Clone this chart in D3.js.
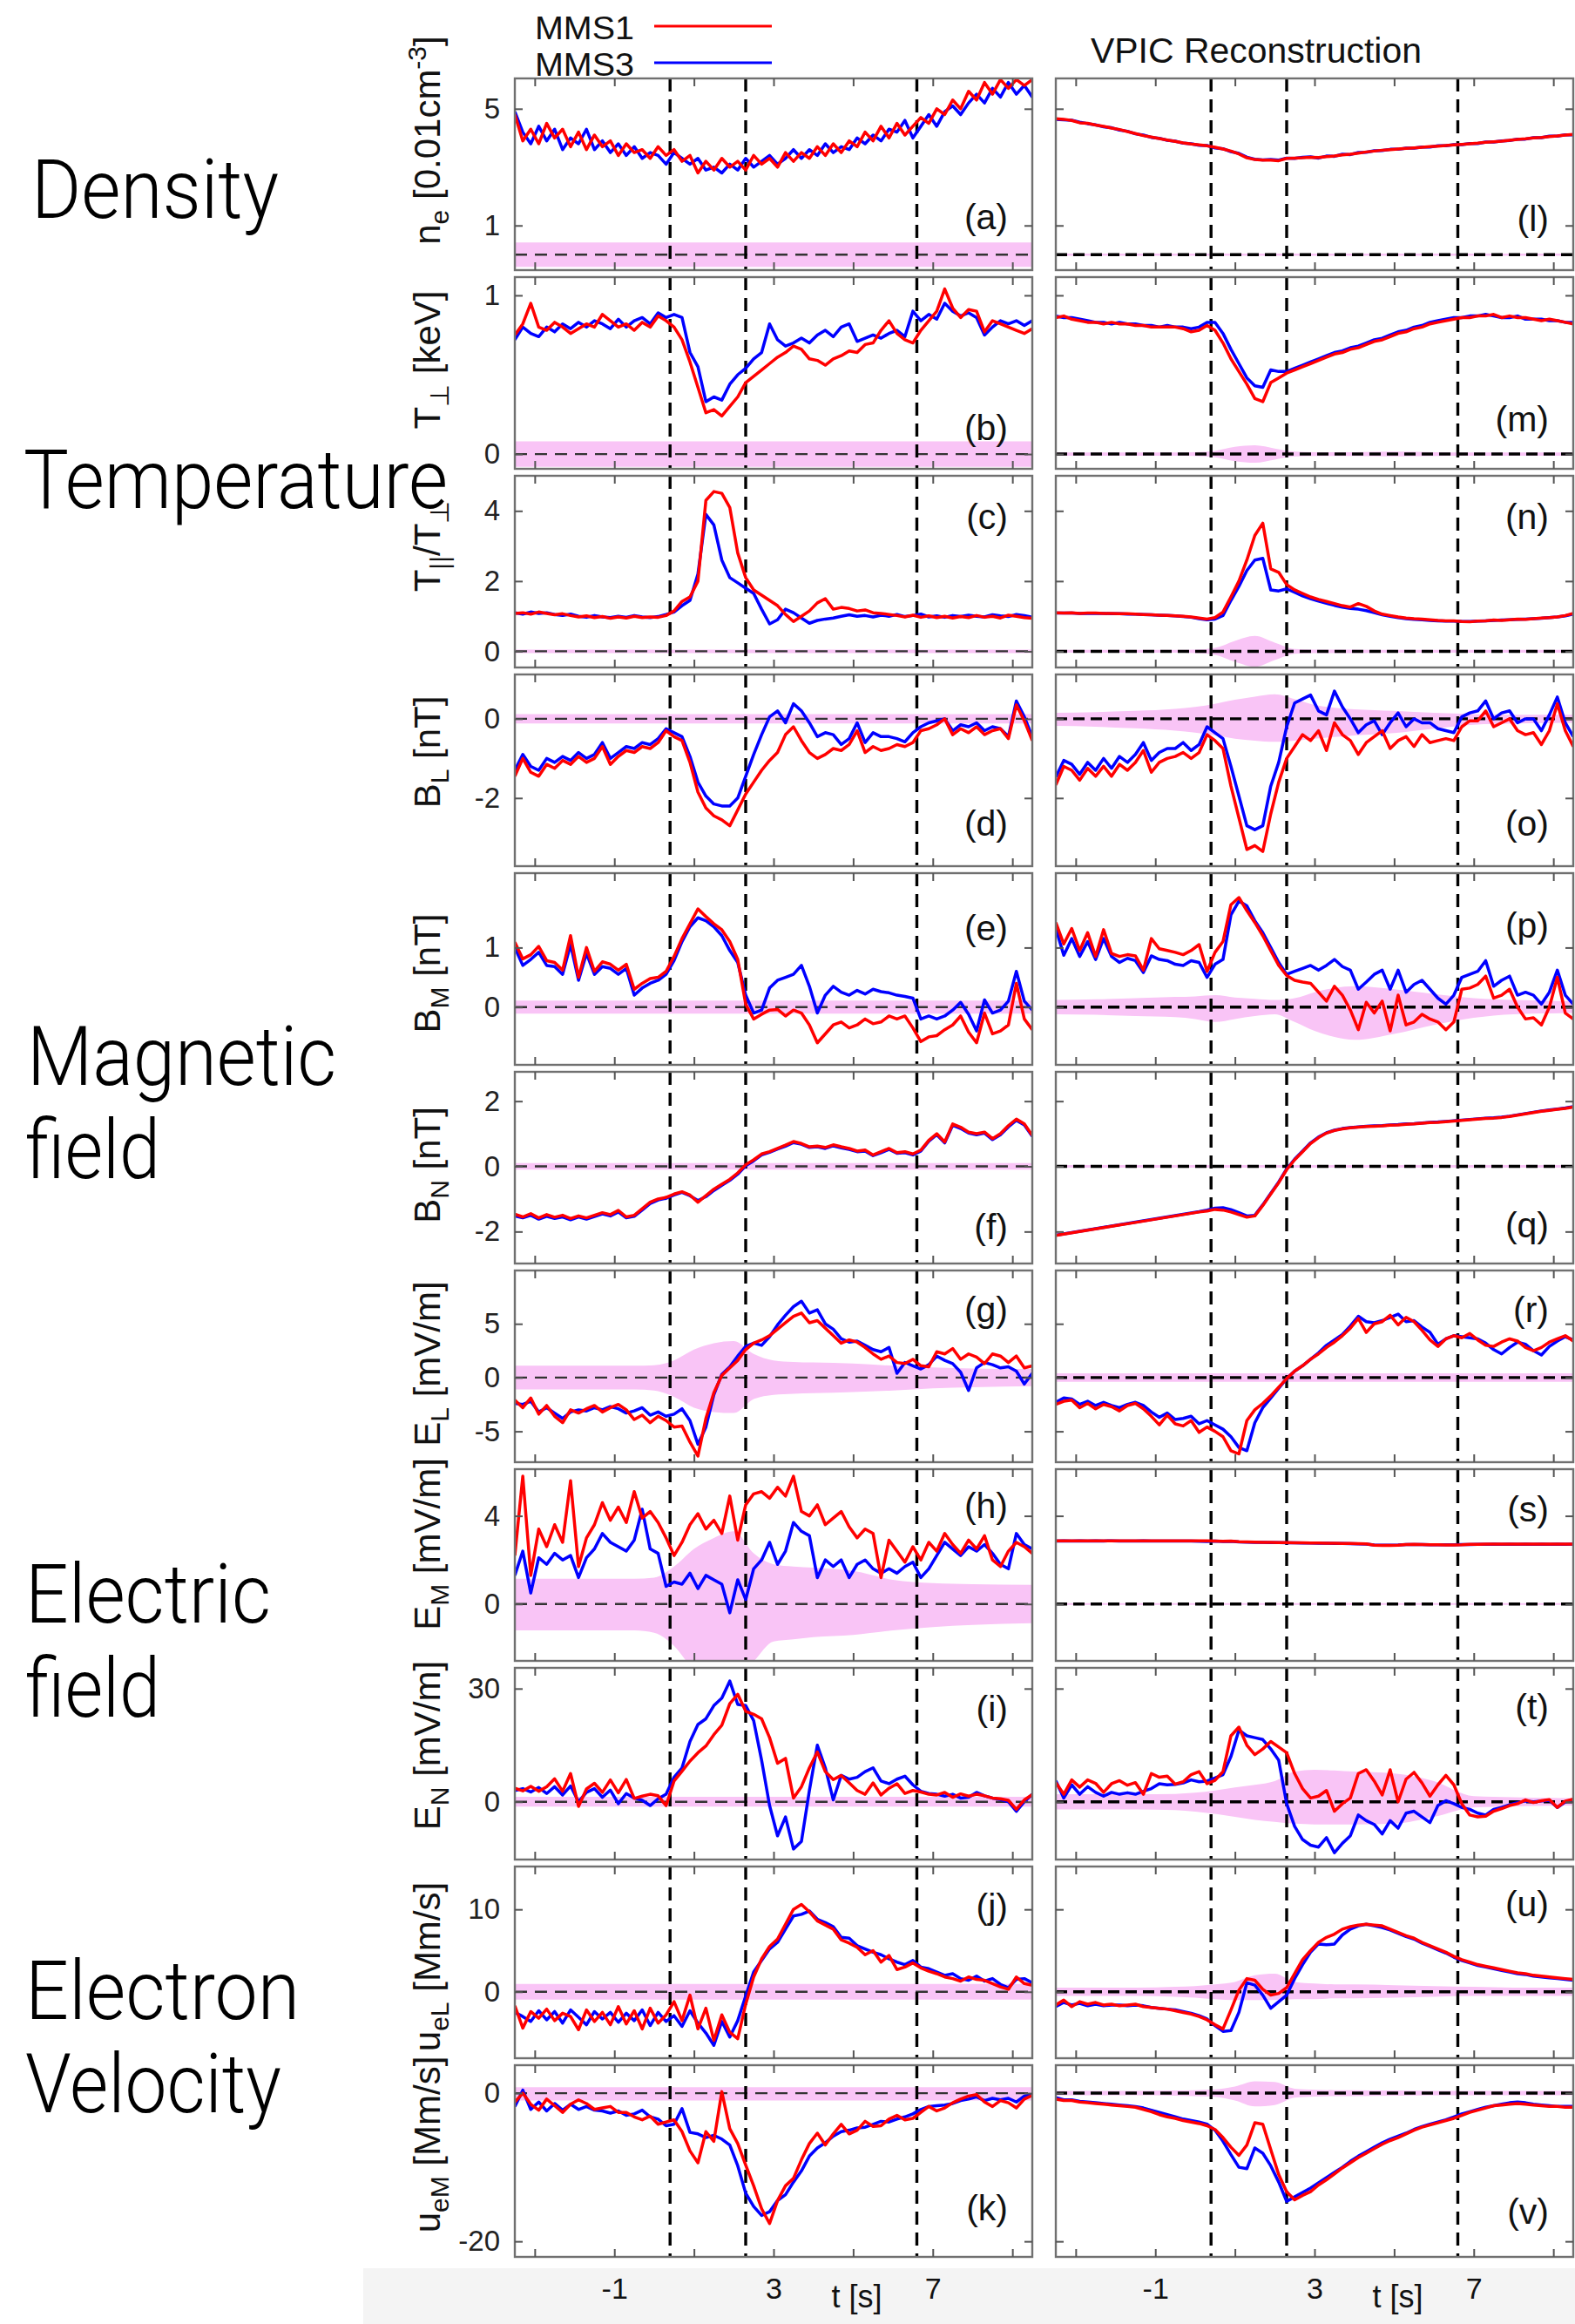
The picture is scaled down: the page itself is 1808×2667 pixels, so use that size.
<!DOCTYPE html>
<html>
<head>
<meta charset="utf-8">
<script src="https://cdn.jsdelivr.net/npm/d3@7"></script>
<style>
  body { margin: 0; background: #fff; }
  svg { display: block; }
</style>
</head>
<body>
<svg id="fig" width="1808" height="2667"></svg>
<script>
// ---- time base (s) ----
const time = [-3.5,-3.3,-3.1,-2.9,-2.7,-2.5,-2.3,-2.1,-1.9,-1.7,
  -1.5,-1.3,-1.1,-0.9,-0.7,-0.5,-0.3,-0.1,0.1,0.3,
  0.5,0.7,0.9,1.1,1.3,1.5,1.7,1.9,2.1,2.3,
  2.5,2.7,2.9,3.1,3.3,3.5,3.7,3.9,4.1,4.3,
  4.5,4.7,4.9,5.1,5.3,5.5,5.7,5.9,6.1,6.3,
  6.5,6.7,6.9,7.1,7.3,7.5,7.7,7.9,8.1,8.3,
  8.5,8.7,8.9,9.1,9.3,9.5];
const eventTimes = [0.4, 2.3, 6.6];
const timeTicks = [-3, -1, 1, 3, 5, 7, 9];
const timeLabels = [-1, 3, 7];

// ---- electron density n_e [0.01 cm^-3] ----
const nObs1 = [4.8,3.9,4.3,3.8,4.5,4.0,4.3,3.7,4.2,3.6,
  4.1,3.7,3.9,3.4,3.8,3.5,3.6,3.3,3.7,3.4,
  3.6,3.2,3.4,2.8,3.2,2.9,3.3,3.0,3.2,2.9,
  3.4,3.1,3.3,3.0,3.5,3.2,3.5,3.3,3.7,3.4,
  3.8,3.5,3.9,3.7,4.2,3.9,4.4,4.0,4.5,4.1,
  4.4,4.7,4.5,5.0,4.8,5.3,5.0,5.6,5.3,5.9,
  5.5,6.0,5.7,6.0,5.8,6.0];
const nObs3 = [4.9,4.2,3.8,4.4,3.9,4.3,3.6,4.0,3.8,4.3,
  3.6,3.9,3.5,3.8,3.4,3.7,3.3,3.5,3.4,3.1,
  3.5,3.3,3.1,3.3,2.9,3.0,2.8,3.1,2.9,3.3,
  3.0,3.2,3.4,3.1,3.3,3.6,3.3,3.6,3.4,3.8,
  3.5,3.7,3.6,4.0,3.8,4.1,3.9,4.3,4.2,4.6,
  4.0,4.4,4.8,4.4,4.9,5.1,4.8,5.2,5.5,5.2,
  5.7,5.4,5.9,5.5,5.8,5.4];
const nSim1 = [4.66,4.64,4.60,4.52,4.50,4.44,4.40,4.34,4.29,4.22,
  4.15,4.08,4.03,3.98,3.93,3.88,3.83,3.79,3.76,3.73,
  3.68,3.62,3.55,3.45,3.32,3.26,3.24,3.24,3.22,3.30,
  3.31,3.32,3.34,3.33,3.36,3.38,3.42,3.44,3.48,3.52,
  3.55,3.58,3.60,3.62,3.64,3.66,3.68,3.70,3.72,3.74,
  3.76,3.78,3.80,3.82,3.85,3.87,3.89,3.92,3.95,3.97,
  4.00,4.02,4.05,4.07,4.10,4.12];
const nSim3 = [4.64,4.62,4.61,4.54,4.49,4.45,4.38,4.35,4.27,4.23,
  4.14,4.10,4.02,3.99,3.92,3.89,3.82,3.80,3.75,3.74,
  3.66,3.63,3.53,3.47,3.34,3.27,3.25,3.26,3.24,3.31,
  3.30,3.34,3.35,3.31,3.38,3.37,3.44,3.43,3.50,3.51,
  3.56,3.57,3.61,3.61,3.65,3.65,3.69,3.69,3.73,3.73,
  3.77,3.77,3.81,3.81,3.86,3.86,3.90,3.91,3.96,3.96,
  4.01,4.01,4.06,4.06,4.11,4.11];

// ---- perpendicular temperature [keV] ----
const tperpObs1 = [0.75,0.82,0.95,0.80,0.78,0.83,0.80,0.76,0.79,0.82,
  0.80,0.88,0.84,0.80,0.82,0.78,0.83,0.80,0.87,0.84,
  0.80,0.72,0.58,0.42,0.26,0.28,0.24,0.30,0.36,0.45,
  0.49,0.53,0.57,0.61,0.64,0.68,0.66,0.60,0.59,0.56,
  0.60,0.62,0.65,0.64,0.69,0.70,0.78,0.84,0.76,0.72,
  0.70,0.78,0.84,0.90,1.04,0.92,0.86,0.91,0.90,0.77,
  0.84,0.82,0.80,0.78,0.76,0.79];
const tperpObs3 = [0.72,0.80,0.76,0.74,0.80,0.77,0.82,0.79,0.83,0.80,
  0.84,0.82,0.79,0.85,0.80,0.84,0.86,0.82,0.89,0.86,
  0.88,0.86,0.64,0.55,0.33,0.36,0.34,0.44,0.50,0.54,
  0.60,0.64,0.82,0.72,0.68,0.70,0.73,0.70,0.75,0.78,
  0.74,0.80,0.82,0.71,0.73,0.75,0.73,0.76,0.78,0.74,
  0.90,0.84,0.88,0.85,0.95,0.90,0.87,0.89,0.86,0.75,
  0.80,0.84,0.82,0.84,0.81,0.84];
const tperpSim1 = [0.86,0.87,0.85,0.84,0.83,0.83,0.82,0.83,0.82,0.82,
  0.81,0.81,0.80,0.80,0.80,0.80,0.79,0.77,0.78,0.81,
  0.78,0.70,0.60,0.52,0.44,0.35,0.33,0.45,0.48,0.51,
  0.53,0.55,0.57,0.59,0.61,0.63,0.64,0.66,0.67,0.69,
  0.71,0.72,0.74,0.76,0.77,0.79,0.80,0.82,0.83,0.84,
  0.85,0.86,0.86,0.87,0.87,0.88,0.86,0.87,0.86,0.86,
  0.85,0.84,0.85,0.84,0.83,0.82];
const tperpSim3 = [0.87,0.86,0.86,0.85,0.84,0.83,0.83,0.82,0.83,0.82,
  0.82,0.81,0.81,0.80,0.81,0.80,0.80,0.79,0.80,0.83,
  0.83,0.76,0.66,0.57,0.48,0.43,0.42,0.53,0.52,0.52,
  0.54,0.56,0.58,0.60,0.62,0.64,0.65,0.67,0.68,0.70,
  0.72,0.73,0.75,0.77,0.78,0.80,0.81,0.83,0.84,0.85,
  0.86,0.86,0.87,0.87,0.88,0.87,0.86,0.86,0.87,0.85,
  0.85,0.85,0.84,0.84,0.83,0.83];

// ---- temperature anisotropy T_par / T_perp ----
const ratioObs1 = [1.08,1.10,1.06,1.12,1.08,1.04,1.07,1.02,0.98,1.01,
  0.96,0.99,0.94,0.98,0.95,1.00,0.96,0.98,0.97,1.02,
  1.15,1.42,1.55,2.00,4.30,4.55,4.50,4.10,2.80,2.10,
  1.75,1.60,1.45,1.30,1.05,0.85,1.00,1.15,1.38,1.50,
  1.20,1.25,1.22,1.15,1.18,1.10,1.08,1.05,1.02,0.98,
  1.03,0.97,1.01,0.96,1.00,0.95,0.99,0.96,1.02,0.97,
  1.00,0.95,1.03,1.00,0.96,0.94];
const ratioObs3 = [1.10,1.06,1.12,1.08,1.10,1.05,1.02,1.06,1.00,0.97,
  1.02,0.98,0.96,1.00,0.97,1.02,0.98,0.96,0.99,1.05,
  1.12,1.30,1.45,2.20,3.90,3.60,2.60,2.10,1.95,1.80,
  1.65,1.20,0.78,0.90,1.20,1.10,0.95,0.80,0.88,0.92,
  0.95,1.00,1.04,1.00,1.02,0.98,1.03,1.00,1.05,0.99,
  1.02,1.06,0.98,1.01,0.97,1.02,0.99,1.03,1.00,0.98,
  1.04,1.01,0.99,1.05,1.02,0.97];
const ratioSim1 = [1.10,1.09,1.10,1.08,1.09,1.09,1.08,1.08,1.07,1.07,
  1.06,1.05,1.04,1.03,1.02,1.01,1.00,0.98,0.95,0.92,
  0.96,1.12,1.55,2.00,2.60,3.30,3.65,2.35,2.25,1.90,
  1.75,1.65,1.55,1.48,1.42,1.36,1.30,1.26,1.36,1.28,
  1.15,1.06,1.02,0.98,0.95,0.93,0.92,0.90,0.88,0.87,
  0.87,0.85,0.84,0.86,0.87,0.89,0.88,0.90,0.92,0.91,
  0.93,0.95,0.96,0.98,1.02,1.08];
const ratioSim3 = [1.09,1.09,1.09,1.08,1.08,1.08,1.08,1.07,1.07,1.06,
  1.06,1.05,1.04,1.03,1.02,1.01,0.99,0.97,0.93,0.90,
  0.92,1.02,1.45,1.85,2.30,2.60,2.65,1.75,1.72,1.78,
  1.68,1.58,1.50,1.43,1.37,1.31,1.26,1.22,1.20,1.16,
  1.10,1.04,1.00,0.96,0.93,0.91,0.90,0.88,0.87,0.86,
  0.86,0.85,0.85,0.86,0.87,0.88,0.89,0.90,0.91,0.92,
  0.93,0.94,0.96,0.98,1.01,1.06];

// ---- magnetic field B_L [nT] ----
const blObs1 = [-1.45,-1.00,-1.35,-1.45,-1.15,-1.25,-1.05,-1.15,-0.95,-1.10,
  -1.00,-0.70,-1.15,-0.95,-0.80,-0.85,-0.70,-0.75,-0.60,-0.30,
  -0.45,-0.55,-1.10,-1.85,-2.25,-2.45,-2.55,-2.70,-2.30,-1.90,
  -1.60,-1.30,-1.05,-0.85,-0.40,-0.20,-0.55,-0.85,-1.00,-0.90,
  -0.75,-0.80,-0.65,-0.30,-0.85,-0.70,-0.80,-0.75,-0.65,-0.70,
  -0.60,-0.30,-0.25,-0.15,0.00,-0.40,-0.25,-0.35,-0.20,-0.40,
  -0.30,-0.25,-0.50,0.35,-0.05,-0.55];
const blObs3 = [-1.30,-0.90,-1.20,-1.30,-1.00,-1.10,-0.95,-1.05,-0.85,-1.00,
  -0.90,-0.60,-1.00,-0.85,-0.70,-0.75,-0.60,-0.65,-0.50,-0.25,
  -0.35,-0.45,-0.95,-1.60,-1.95,-2.15,-2.20,-2.20,-2.00,-1.45,
  -0.90,-0.40,0.05,0.20,-0.10,0.38,0.20,-0.10,-0.45,-0.35,
  -0.40,-0.65,-0.50,-0.10,-0.60,-0.35,-0.45,-0.45,-0.50,-0.58,
  -0.35,-0.20,-0.10,-0.05,0.00,-0.30,-0.15,-0.20,-0.10,-0.30,
  -0.20,-0.25,-0.45,0.45,0.05,-0.45];
const blSim1 = [-1.67,-1.20,-1.30,-1.55,-1.25,-1.45,-1.20,-1.45,-1.15,-1.30,
  -1.10,-0.80,-1.35,-1.10,-1.00,-0.95,-0.85,-1.00,-0.85,-0.40,
  -0.55,-0.75,-1.70,-2.50,-3.30,-3.20,-3.35,-2.40,-1.60,-1.00,
  -0.70,-0.40,-0.55,-0.30,-0.80,-0.10,-0.40,-0.55,-0.90,-0.60,
  -0.45,-0.30,-0.75,-0.55,-0.45,-0.70,-0.40,-0.60,-0.55,-0.50,
  -0.55,-0.20,-0.05,-0.05,0.20,-0.20,-0.10,0.00,-0.30,-0.40,
  -0.35,-0.65,-0.30,0.38,-0.30,-0.70];
const blSim3 = [-1.47,-1.05,-1.15,-1.40,-1.10,-1.30,-1.00,-1.25,-0.95,-1.10,
  -0.90,-0.60,-1.05,-0.85,-0.75,-0.75,-0.60,-0.80,-0.65,-0.20,
  -0.35,-0.50,-1.20,-1.95,-2.70,-2.80,-2.70,-1.70,-1.10,-0.20,
  0.40,0.50,0.60,0.20,0.10,0.70,0.30,0.00,-0.35,-0.15,
  -0.05,-0.40,-0.10,0.15,-0.20,0.00,-0.10,-0.10,-0.25,-0.30,
  -0.35,0.05,0.15,0.20,0.45,0.00,0.15,0.20,-0.10,0.00,
  0.00,-0.30,0.10,0.55,-0.10,-0.45];

// ---- magnetic field B_M [nT] ----
const bmObs1 = [1.09,0.81,0.88,1.02,0.78,0.75,0.62,1.20,0.50,1.00,
  0.60,0.76,0.72,0.62,0.72,0.30,0.40,0.48,0.50,0.60,
  0.85,1.15,1.40,1.65,1.52,1.40,1.30,1.10,0.80,0.05,
  -0.20,-0.12,-0.05,-0.04,-0.15,-0.05,-0.10,-0.30,-0.60,-0.45,
  -0.30,-0.25,-0.35,-0.30,-0.20,-0.28,-0.25,-0.15,-0.20,-0.15,
  -0.35,-0.58,-0.50,-0.48,-0.38,-0.30,-0.15,-0.42,-0.60,-0.10,
  -0.45,-0.40,-0.30,0.40,-0.20,-0.38];
const bmObs3 = [1.00,0.70,0.80,0.92,0.70,0.68,0.55,1.05,0.45,0.90,
  0.55,0.68,0.65,0.55,0.65,0.20,0.32,0.40,0.45,0.55,
  0.78,1.10,1.35,1.50,1.45,1.35,1.20,0.95,0.75,0.20,
  -0.10,-0.05,0.32,0.45,0.50,0.55,0.70,0.35,-0.10,0.20,
  0.35,0.25,0.20,0.28,0.22,0.30,0.26,0.24,0.20,0.18,
  0.15,-0.20,-0.15,-0.20,-0.15,-0.05,0.08,-0.12,-0.40,0.12,
  -0.10,-0.05,0.10,0.60,0.10,-0.05];
const bmSim1 = [1.42,1.06,1.32,0.95,1.25,0.85,1.30,0.90,0.85,0.88,
  0.86,0.62,1.15,0.98,0.95,0.92,0.88,0.95,1.05,0.60,
  0.92,1.10,1.72,1.84,1.62,1.42,1.20,0.95,0.70,0.53,
  0.45,0.42,0.40,0.25,0.10,0.35,0.20,-0.05,-0.38,0.08,
  -0.10,0.10,-0.40,0.20,-0.30,-0.25,-0.12,-0.20,-0.25,-0.38,
  -0.25,0.30,0.32,0.38,0.52,0.15,0.20,0.30,0.00,-0.20,
  -0.18,-0.30,0.00,0.50,-0.10,-0.20];
const bmSim3 = [1.32,0.87,1.15,0.85,1.10,0.80,1.15,0.85,0.75,0.82,
  0.78,0.58,0.86,0.80,0.78,0.72,0.70,0.78,0.75,0.50,
  0.72,0.80,1.55,1.78,1.70,1.45,1.25,1.00,0.75,0.55,
  0.60,0.65,0.70,0.62,0.70,0.80,0.68,0.62,0.30,0.42,
  0.55,0.62,0.30,0.62,0.25,0.38,0.45,0.30,0.15,0.05,
  0.20,0.50,0.55,0.60,0.78,0.35,0.45,0.52,0.20,0.25,
  0.20,0.05,0.25,0.62,0.20,0.05];

// ---- magnetic field B_N [nT] ----
const bnObs1 = [-1.47,-1.55,-1.45,-1.58,-1.48,-1.56,-1.50,-1.60,-1.52,-1.58,
  -1.50,-1.42,-1.48,-1.35,-1.55,-1.50,-1.30,-1.10,-1.00,-0.95,
  -0.85,-0.78,-0.88,-1.10,-0.90,-0.70,-0.55,-0.40,-0.20,0.05,
  0.20,0.38,0.45,0.55,0.65,0.76,0.70,0.60,0.62,0.58,
  0.66,0.60,0.55,0.47,0.50,0.35,0.45,0.55,0.42,0.45,
  0.38,0.50,0.80,1.00,0.75,1.30,1.20,1.05,1.00,1.05,
  0.85,1.00,1.25,1.45,1.30,0.95];
const bnObs3 = [-1.52,-1.58,-1.50,-1.62,-1.53,-1.60,-1.55,-1.64,-1.55,-1.62,
  -1.54,-1.46,-1.52,-1.40,-1.58,-1.53,-1.34,-1.14,-1.03,-0.98,
  -0.88,-0.80,-0.90,-1.05,-0.93,-0.74,-0.58,-0.43,-0.24,0.02,
  0.17,0.35,0.43,0.53,0.62,0.73,0.68,0.58,0.60,0.55,
  0.63,0.57,0.52,0.45,0.47,0.33,0.42,0.52,0.40,0.42,
  0.35,0.47,0.77,0.97,0.72,1.26,1.16,1.02,0.97,1.02,
  0.82,0.97,1.21,1.41,1.27,0.92];
const bnSim1 = [-2.12,-2.08,-2.04,-2.00,-1.96,-1.92,-1.88,-1.84,-1.80,-1.76,
  -1.72,-1.68,-1.64,-1.60,-1.56,-1.52,-1.48,-1.44,-1.40,-1.37,
  -1.32,-1.34,-1.40,-1.48,-1.56,-1.52,-1.20,-0.85,-0.50,-0.10,
  0.20,0.45,0.70,0.88,1.02,1.10,1.15,1.18,1.20,1.22,
  1.23,1.24,1.26,1.27,1.29,1.30,1.32,1.34,1.35,1.37,
  1.39,1.41,1.43,1.45,1.47,1.48,1.50,1.53,1.57,1.61,
  1.65,1.69,1.72,1.75,1.78,1.82];
const bnSim3 = [-2.11,-2.07,-2.03,-1.99,-1.95,-1.91,-1.87,-1.83,-1.79,-1.75,
  -1.71,-1.67,-1.63,-1.59,-1.55,-1.51,-1.47,-1.43,-1.39,-1.34,
  -1.28,-1.27,-1.33,-1.42,-1.52,-1.50,-1.18,-0.83,-0.48,-0.08,
  0.22,0.47,0.72,0.90,1.03,1.11,1.16,1.19,1.21,1.23,
  1.24,1.25,1.27,1.28,1.30,1.31,1.33,1.35,1.36,1.38,
  1.40,1.42,1.44,1.46,1.48,1.49,1.51,1.54,1.58,1.62,
  1.66,1.70,1.73,1.76,1.79,1.83];

// ---- electric field E_L [mV/m] ----
const elObs1 = [-2.1,-2.8,-1.9,-3.4,-2.6,-3.6,-4.2,-3.0,-3.3,-2.9,
  -2.6,-3.2,-2.8,-2.5,-3.0,-3.9,-3.5,-4.2,-3.6,-4.0,
  -4.6,-4.5,-6.0,-7.3,-3.8,-1.4,0.2,0.9,1.6,2.6,
  3.2,3.5,3.9,4.5,5.1,5.7,6.0,5.1,5.3,4.6,
  3.9,3.2,3.5,3.3,2.8,2.2,1.7,2.0,1.4,1.3,
  1.7,1.1,1.0,2.4,2.2,2.7,1.7,2.2,1.9,1.3,
  2.2,2.0,1.4,2.0,0.9,1.1];
const elObs3 = [-2.4,-2.5,-2.2,-3.2,-2.8,-3.3,-3.8,-3.2,-3.0,-3.1,
  -2.8,-3.0,-2.7,-2.9,-3.3,-3.1,-2.8,-3.5,-3.2,-3.6,
  -3.4,-2.9,-4.0,-6.2,-4.6,-1.6,0.3,1.0,2.0,2.9,
  3.2,3.0,3.8,4.9,5.8,6.6,7.1,6.0,6.3,5.0,
  4.5,3.6,3.3,3.4,3.0,2.6,2.4,2.8,0.4,1.4,
  1.1,0.8,1.2,2.0,1.6,1.3,0.5,-1.2,0.9,1.4,
  1.2,0.9,1.0,0.6,-0.6,0.4];
const elSim1 = [-2.5,-2.2,-2.1,-2.8,-2.4,-2.9,-2.5,-2.7,-3.1,-2.6,
  -2.4,-2.9,-3.6,-4.4,-3.5,-4.3,-4.5,-4.0,-5.1,-4.6,
  -5.0,-5.5,-6.8,-7.1,-4.0,-3.0,-2.4,-1.7,-0.9,-0.1,
  0.6,1.1,1.7,2.2,2.8,3.3,3.9,4.6,5.5,4.2,
  5.0,5.2,5.8,4.9,5.6,5.2,4.4,3.5,2.9,3.6,
  3.9,3.7,4.1,3.5,3.0,2.9,3.3,3.6,3.4,2.8,
  2.5,2.8,3.3,3.6,3.9,3.4];
const elSim3 = [-2.3,-1.9,-2.0,-2.5,-2.2,-2.6,-2.3,-2.6,-2.8,-2.5,
  -2.3,-2.6,-3.2,-3.7,-3.3,-3.9,-3.8,-3.6,-4.3,-4.0,
  -4.4,-4.8,-5.5,-6.5,-6.8,-4.2,-2.8,-1.9,-1.0,-0.1,
  0.6,1.1,1.7,2.3,3.0,3.5,4.0,4.8,5.7,5.2,
  5.1,5.3,5.6,5.9,5.2,5.3,4.7,4.2,3.1,3.6,
  3.9,3.8,3.7,3.6,3.2,2.6,2.2,2.8,3.3,3.1,
  2.5,2.1,2.9,3.4,3.8,3.5];

// ---- electric field E_M [mV/m] ----
const emObs1 = [2.2,5.8,1.3,3.4,2.6,3.6,2.8,5.6,1.7,3.0,
  3.6,4.6,3.8,4.4,3.7,5.1,3.9,4.2,3.7,3.0,
  2.2,2.8,3.6,4.1,3.4,3.8,3.2,4.9,2.9,4.5,
  5.0,5.1,4.8,5.3,4.9,5.8,4.2,4.0,4.5,3.6,
  3.9,4.2,3.5,3.0,3.4,3.2,1.2,2.9,2.4,1.9,
  2.6,2.0,2.8,2.4,3.2,2.7,2.3,2.9,2.5,3.1,
  2.0,1.7,2.4,2.8,2.6,2.3];
const emObs3 = [1.3,2.4,0.5,2.1,1.8,2.3,2.0,2.2,1.2,2.1,
  2.5,3.2,2.8,2.6,2.4,2.9,4.3,2.5,2.3,0.8,
  1.0,0.9,1.4,0.7,1.3,1.1,0.9,-0.4,1.1,0.2,
  1.6,2.0,2.8,1.8,2.4,3.7,3.3,3.1,1.2,2.0,
  1.7,2.0,1.2,1.8,2.0,1.6,1.4,1.6,1.4,1.7,
  1.9,1.2,1.6,2.2,2.8,2.5,2.2,2.6,2.4,2.7,
  2.3,1.8,1.6,3.2,2.7,2.5];
const emSim1 = [2.87,2.87,2.87,2.87,2.87,2.87,2.87,2.87,2.87,2.87,
  2.87,2.87,2.87,2.87,2.87,2.87,2.87,2.87,2.87,2.87,
  2.86,2.85,2.86,2.83,2.82,2.81,2.80,2.80,2.79,2.79,
  2.78,2.78,2.77,2.77,2.76,2.76,2.75,2.75,2.74,2.73,
  2.67,2.66,2.66,2.67,2.70,2.71,2.70,2.69,2.69,2.68,
  2.68,2.69,2.71,2.71,2.72,2.72,2.72,2.72,2.72,2.72,
  2.72,2.72,2.72,2.72,2.72,2.72];
const emSim3 = [2.86,2.87,2.86,2.87,2.86,2.87,2.86,2.87,2.86,2.86,
  2.86,2.87,2.86,2.86,2.86,2.86,2.86,2.86,2.85,2.84,
  2.86,2.84,2.85,2.82,2.81,2.80,2.80,2.79,2.79,2.78,
  2.78,2.77,2.77,2.76,2.76,2.75,2.75,2.74,2.73,2.72,
  2.68,2.67,2.67,2.68,2.70,2.70,2.70,2.69,2.69,2.69,
  2.69,2.70,2.70,2.71,2.71,2.72,2.71,2.72,2.71,2.72,
  2.71,2.72,2.71,2.72,2.71,2.72];

// ---- electric field E_N [mV/m] ----
const enObs1 = [3.6,2.9,4.1,2.8,4.0,6.1,2.8,7.5,-1.2,3.4,
  4.9,2.5,5.8,2.4,5.9,0.9,1.5,2.0,1.6,-1.0,
  5.5,8.1,10.8,13.0,14.8,17.8,20.3,26.0,28.5,24.0,
  23.2,22.0,17.0,10.2,11.5,1.0,4.0,9.0,13.2,8.0,
  5.9,7.0,5.0,3.0,2.0,5.0,1.8,3.6,4.8,2.2,
  3.0,2.6,2.0,1.8,2.5,1.2,2.1,1.5,2.0,1.6,
  1.0,0.8,0.4,-2.0,0.5,1.9];
const enObs3 = [3.0,3.5,2.6,3.8,2.2,4.0,1.8,4.2,0.0,2.5,
  3.5,1.2,3.1,-0.5,2.2,1.0,0.4,-1.0,0.8,2.0,
  6.5,9.0,16.0,20.5,22.0,25.5,27.5,32.0,25.8,25.5,
  21.5,11.0,-1.0,-9.0,-4.0,-12.5,-10.5,3.0,15.0,9.0,
  0.5,7.0,6.0,6.5,8.0,9.0,5.5,4.8,6.0,6.8,
  4.5,2.8,2.2,2.0,1.5,2.0,1.0,1.2,2.5,1.6,
  1.0,0.6,0.0,-2.5,0.0,2.0];
const enSim1 = [5.1,2.0,5.8,3.9,5.8,4.9,2.5,4.8,5.6,4.4,
  5.1,2.0,7.5,6.5,6.8,4.7,5.3,7.2,8.0,4.8,
  5.7,8.0,17.5,19.8,15.0,12.5,14.0,16.0,14.5,13.0,
  7.5,3.5,1.0,1.5,3.0,-2.5,-0.5,1.0,7.5,8.5,
  5.5,1.8,8.5,0.0,6.0,7.8,5.0,1.5,4.5,7.0,
  4.5,-0.5,-3.5,-4.0,-3.8,-2.5,-1.8,-1.0,-0.5,0.5,
  -0.2,0.3,0.6,-1.5,0.2,0.7];
const enSim3 = [5.6,1.0,4.5,2.0,4.0,2.5,1.5,2.5,2.0,2.4,
  2.0,2.8,3.5,4.8,4.5,4.6,5.0,5.8,5.3,5.5,
  6.3,7.2,12.0,19.0,17.5,17.0,16.5,14.0,11.0,-0.5,
  -6.5,-10.0,-11.5,-12.0,-9.5,-13.5,-11.0,-9.0,-3.5,-5.0,
  -6.0,-8.5,-5.0,-7.0,-3.0,-2.5,-4.0,-5.5,-1.0,0.3,
  -0.5,-1.5,-2.0,-3.0,-3.5,-2.0,-1.5,-0.8,-0.2,0.2,
  0.0,0.2,0.4,-1.5,0.0,0.6];

// ---- electron velocity u_eL [Mm/s] ----
const uelObs1 = [-1.7,-4.4,-2.4,-3.2,-2.1,-3.5,-2.6,-3.0,-4.6,-2.2,
  -3.6,-2.5,-4.0,-1.8,-3.9,-2.3,-4.5,-2.0,-3.8,-2.8,
  -1.2,-3.5,-0.4,-4.5,-2.0,-5.9,-2.8,-4.9,-5.7,-1.5,
  1.8,4.0,5.5,6.4,8.2,10.0,10.6,9.7,8.6,8.1,
  7.6,6.3,5.9,5.4,4.5,5.0,3.6,4.4,2.7,3.0,
  3.5,2.9,2.5,2.2,1.8,1.6,1.3,1.8,1.5,1.4,
  1.0,0.6,0.3,1.8,1.0,0.8];
const uelObs3 = [-2.5,-3.0,-3.6,-2.3,-3.4,-2.4,-3.8,-2.2,-3.1,-4.0,
  -2.4,-3.3,-2.5,-3.7,-2.6,-3.5,-2.2,-4.1,-2.5,-3.6,
  -2.9,-4.2,-2.3,-3.8,-5.0,-6.5,-3.6,-5.5,-3.5,-0.5,
  2.4,3.8,5.2,6.0,7.6,9.2,9.4,9.8,8.8,8.4,
  7.9,6.6,6.5,5.6,5.2,4.8,4.5,4.0,3.6,3.3,
  3.8,3.0,2.8,2.4,2.0,2.2,1.6,1.4,1.9,1.3,
  1.6,0.9,0.5,1.5,1.6,1.1];
const uelSim1 = [-1.6,-1.0,-1.8,-1.2,-1.5,-1.3,-1.6,-1.5,-1.7,-1.6,
  -1.5,-1.8,-1.9,-2.0,-2.1,-2.3,-2.5,-2.7,-3.0,-3.4,
  -4.0,-4.5,-2.2,0.2,1.6,1.4,0.3,-0.4,-0.2,0.5,
  2.2,3.9,5.0,6.0,6.6,7.0,7.6,7.9,8.1,8.2,
  8.1,8.0,7.6,7.2,6.8,6.5,6.0,5.6,5.2,4.8,
  4.3,3.9,3.6,3.3,3.1,2.9,2.7,2.5,2.3,2.2,
  2.0,1.9,1.8,1.7,1.6,1.5];
const uelSim3 = [-1.8,-1.3,-1.6,-1.4,-1.7,-1.5,-1.7,-1.6,-1.6,-1.7,
  -1.6,-1.7,-1.9,-2.0,-2.1,-2.2,-2.4,-2.6,-2.9,-3.3,
  -4.1,-4.8,-4.7,-2.5,1.1,0.8,-0.4,-2.0,-1.2,-0.4,
  1.6,3.3,4.8,5.8,5.7,5.8,6.9,7.6,8.0,8.2,
  8.0,7.8,7.5,7.1,6.7,6.4,5.9,5.5,5.1,4.7,
  4.2,3.8,3.5,3.2,3.0,2.8,2.6,2.4,2.2,2.1,
  1.9,1.8,1.7,1.6,1.5,1.4];

// ---- electron velocity u_eM [Mm/s] ----
const uemObs1 = [-1.2,0.0,-1.5,-2.3,-0.8,-1.7,-2.6,-1.5,-0.9,-1.4,
  -2.2,-2.0,-1.8,-2.6,-2.6,-3.2,-3.6,-3.1,-4.2,-3.9,
  -3.6,-5.2,-7.8,-9.4,-5.2,-6.5,0.2,-4.8,-6.8,-9.7,
  -12.5,-15.6,-17.6,-14.5,-12.5,-11.5,-9.0,-6.8,-5.4,-7.0,
  -5.5,-4.2,-5.5,-5.0,-3.8,-4.5,-4.4,-3.5,-3.0,-3.6,
  -3.4,-2.6,-1.8,-2.4,-2.0,-1.3,-0.8,-0.4,-0.2,-1.2,
  -1.8,-1.0,-1.3,-2.0,-0.8,-0.3];
const uemObs3 = [-1.8,0.4,-2.2,-1.2,-2.4,-1.4,-2.3,-1.5,-2.2,-1.8,
  -2.3,-2.4,-2.7,-2.4,-3.0,-2.8,-2.3,-3.2,-3.5,-4.4,
  -4.2,-2.1,-5.3,-5.5,-6.0,-5.7,-6.2,-7.0,-9.8,-13.5,
  -15.3,-16.5,-16.0,-14.5,-13.7,-12.0,-10.5,-8.5,-7.4,-6.7,
  -5.8,-5.2,-5.0,-4.7,-4.6,-4.2,-3.8,-3.9,-3.5,-3.2,
  -2.8,-2.2,-1.8,-1.7,-1.6,-1.4,-1.0,-0.8,-0.5,-1.0,
  -0.7,-0.9,-0.7,-1.2,-0.4,-0.2];
const uemSim1 = [-0.8,-1.0,-1.0,-1.2,-1.3,-1.4,-1.5,-1.6,-1.7,-1.8,
  -1.9,-2.2,-2.5,-2.9,-3.2,-3.4,-3.7,-3.9,-4.1,-4.4,
  -4.9,-6.0,-7.3,-8.4,-7.0,-4.0,-4.2,-7.6,-11.0,-13.3,
  -14.4,-13.8,-13.3,-12.4,-11.7,-10.9,-10.1,-9.4,-8.7,-8.1,
  -7.5,-6.9,-6.4,-6.0,-5.5,-5.0,-4.6,-4.3,-4.0,-3.7,
  -3.4,-3.0,-2.6,-2.3,-2.0,-1.7,-1.6,-1.5,-1.4,-1.5,
  -1.6,-1.7,-1.8,-1.8,-1.9,-1.9];
const uemSim3 = [-0.6,-0.9,-0.9,-1.1,-1.2,-1.3,-1.4,-1.5,-1.6,-1.7,
  -1.8,-2.0,-2.3,-2.6,-2.9,-3.2,-3.5,-3.7,-3.9,-4.2,
  -5.0,-6.5,-8.3,-10.0,-10.2,-7.4,-8.1,-9.8,-12.0,-14.6,
  -14.0,-13.4,-12.8,-12.1,-11.4,-10.7,-10.0,-9.2,-8.5,-7.9,
  -7.3,-6.7,-6.2,-5.8,-5.4,-4.9,-4.5,-4.2,-3.9,-3.6,
  -3.2,-2.8,-2.5,-2.2,-1.9,-1.7,-1.5,-1.3,-1.2,-1.3,
  -1.5,-1.6,-1.7,-1.8,-1.8,-1.8];

// ---- uncertainty envelopes (pink), sampled on a coarser time base ----
const bandTime = [-3.5,-2.5,-1.5,-0.5,0,0.5,1,1.5,2,2.5,3,3.5,4,5,6,7,8,9.5];
const elBandObsHi = [1.1,1.1,1.1,1.1,1.15,1.6,2.6,3.2,3.4,2.2,1.6,1.45,1.4,1.3,1.1,0.95,0.85,0.8];
const elBandObsLo = [-1.1,-1.1,-1.1,-1.1,-1.2,-1.8,-2.8,-3.2,-3.3,-2.0,-1.6,-1.5,-1.45,-1.35,-1.2,-1.0,-0.9,-0.8];
const emBandObsHi = [1.15,1.15,1.15,1.15,1.2,1.7,2.5,3.0,3.3,2.3,1.8,1.7,1.65,1.5,1.1,0.95,0.9,0.87];
const emBandObsLo = [-1.2,-1.2,-1.2,-1.2,-1.3,-1.9,-3.0,-3.5,-3.5,-2.6,-1.7,-1.6,-1.5,-1.4,-1.2,-1.05,-0.95,-0.87];
const tperpBandSimHi = [0.01,0.01,0.01,0.01,0.012,0.02,0.045,0.055,0.035,0.015,0.012,0.012,0.012,0.015,0.012,0.01,0.01,0.01];
const tperpBandSimLo = [-0.01,-0.01,-0.01,-0.01,-0.012,-0.02,-0.045,-0.055,-0.035,-0.015,-0.012,-0.012,-0.012,-0.015,-0.012,-0.01,-0.01,-0.01];
const ratioBandSimHi = [0.04,0.04,0.04,0.04,0.05,0.1,0.3,0.44,0.25,0.07,0.05,0.05,0.05,0.04,0.04,0.04,0.04,0.04];
const ratioBandSimLo = [-0.04,-0.04,-0.04,-0.04,-0.05,-0.1,-0.3,-0.44,-0.25,-0.07,-0.05,-0.05,-0.05,-0.04,-0.04,-0.04,-0.04,-0.04];
const blBandSimHi = [0.15,0.17,0.2,0.25,0.3,0.38,0.48,0.56,0.62,0.5,0.35,0.28,0.24,0.2,0.15,0.12,0.1,0.1];
const blBandSimLo = [-0.18,-0.2,-0.24,-0.3,-0.35,-0.42,-0.5,-0.55,-0.58,-0.55,-0.5,-0.46,-0.42,-0.36,-0.25,-0.15,-0.12,-0.1];
const bmBandSimHi = [0.12,0.13,0.15,0.17,0.18,0.2,0.16,0.14,0.12,0.15,0.25,0.32,0.35,0.3,0.22,0.15,0.12,0.1];
const bmBandSimLo = [-0.12,-0.13,-0.15,-0.17,-0.2,-0.25,-0.2,-0.15,-0.12,-0.25,-0.4,-0.5,-0.55,-0.45,-0.3,-0.18,-0.12,-0.1];
const enBandSimHi = [2.0,2.0,2.0,2.1,2.4,3.0,3.8,4.5,5.5,8.0,8.5,8.3,8.0,7.5,5.5,1.5,1.2,1.0];
const enBandSimLo = [-2.0,-2.0,-2.0,-2.2,-2.6,-3.2,-4.0,-4.8,-5.3,-5.8,-6.0,-6.0,-6.0,-5.8,-4.0,-1.5,-1.2,-1.0];
const uelBandSimHi = [0.5,0.5,0.5,0.6,0.7,0.9,1.2,2.0,2.2,1.2,1.0,0.9,0.9,0.8,0.7,0.6,0.5,0.5];
const uelBandSimLo = [-0.5,-0.5,-0.5,-0.6,-0.7,-0.9,-1.0,-1.0,-1.0,-0.9,-0.9,-0.8,-0.8,-0.7,-0.6,-0.5,-0.5,-0.5];
const uemBandSimHi = [0.3,0.3,0.3,0.35,0.4,0.5,0.9,1.6,1.5,0.6,0.45,0.4,0.4,0.35,0.3,0.3,0.3,0.3];
const uemBandSimLo = [-0.3,-0.3,-0.3,-0.35,-0.4,-0.5,-1.0,-1.8,-1.6,-0.6,-0.45,-0.4,-0.4,-0.35,-0.3,-0.3,-0.3,-0.3];
// constant-width envelopes: [upper, lower]
const flatBands = {
  nObs: [0.42, -0.42], tperpObs: [0.08, -0.08], ratioObs: [0.05, -0.05],
  blObs: [0.12, -0.12], bmObs: [0.11, -0.11], bnObs: [0.1, -0.1],
  enObs: [1.3, -1.3], uelObs: [0.95, -0.95], uemObs: [0.8, -1.0],
  nSim: [0.04, -0.04], bnSim: [0.04, -0.04], elSim: [0.4, -0.4], emSim: [0.04, -0.04]
};

// ---- panel rows: letters, y range, labelled ticks ----
const rowLetters = [["a","l"],["b","m"],["c","n"],["d","o"],["e","p"],["f","q"],
  ["g","r"],["h","s"],["i","t"],["j","u"],["k","v"]];
const rowDomains = [[-0.53,6.04],[-0.093,1.115],[-0.46,5.0],[-3.72,1.12],[-0.97,2.25],
  [-2.98,2.9],[-7.87,9.96],[-2.58,6.12],[-15.3,35.5],[-8.06,15.2],[-22.1,3.77]];
const rowTicks = [[1,5],[0,1],[0,2,4],[-2,0],[0,1],[-2,0,2],[-5,0,5],[0,4],[0,30],[0,10],[-20,0]];

const rows = [
  {obs:[nObs1,nObs3], sim:[nSim1,nSim3], bandObs:flatBands.nObs, bandSim:flatBands.nSim},
  {obs:[tperpObs1,tperpObs3], sim:[tperpSim1,tperpSim3], bandObs:flatBands.tperpObs, bandSim:[tperpBandSimHi,tperpBandSimLo]},
  {obs:[ratioObs1,ratioObs3], sim:[ratioSim1,ratioSim3], bandObs:flatBands.ratioObs, bandSim:[ratioBandSimHi,ratioBandSimLo]},
  {obs:[blObs1,blObs3], sim:[blSim1,blSim3], bandObs:flatBands.blObs, bandSim:[blBandSimHi,blBandSimLo]},
  {obs:[bmObs1,bmObs3], sim:[bmSim1,bmSim3], bandObs:flatBands.bmObs, bandSim:[bmBandSimHi,bmBandSimLo]},
  {obs:[bnObs1,bnObs3], sim:[bnSim1,bnSim3], bandObs:flatBands.bnObs, bandSim:flatBands.bnSim},
  {obs:[elObs1,elObs3], sim:[elSim1,elSim3], bandObs:[elBandObsHi,elBandObsLo], bandSim:flatBands.elSim},
  {obs:[emObs1,emObs3], sim:[emSim1,emSim3], bandObs:[emBandObsHi,emBandObsLo], bandSim:flatBands.emSim},
  {obs:[enObs1,enObs3], sim:[enSim1,enSim3], bandObs:flatBands.enObs, bandSim:[enBandSimHi,enBandSimLo]},
  {obs:[uelObs1,uelObs3], sim:[uelSim1,uelSim3], bandObs:flatBands.uelObs, bandSim:[uelBandSimHi,uelBandSimLo]},
  {obs:[uemObs1,uemObs3], sim:[uemSim1,uemSim3], bandObs:flatBands.uemObs, bandSim:[uemBandSimHi,uemBandSimLo]}
];

// ---- layout ----
const FONT = "'Liberation Sans', Arial, Helvetica, sans-serif";
const colX = [591, 1212], panelW = 594, panelH = 220, top0 = 90, rowStep = 228;
const timeDomain = [-3.5, 9.5];
const letterOffset = [[158,160],[172,162],[46,46],[170,170],[62,59],[177,175],
  [44,44],[41,45],[46,44],[45,42],[163,167]];
const seriesColor = ["#ff0000", "#0000ff"];  // MMS1, MMS3
const pink = "#f9c4f6";

const svg = d3.select("#fig");
svg.append("rect").attr("width", 1808).attr("height", 2667).attr("fill", "#fff");
svg.append("rect").attr("x", 417).attr("y", 2603).attr("width", 1391).attr("height", 64).attr("fill", "#f4f4f4");

rows.forEach((row, i) => {
  [0, 1].forEach(c => {
    const x0 = colX[c], y0 = top0 + i * rowStep;
    const x = d3.scaleLinear().domain(timeDomain).range([x0, x0 + panelW]);
    const y = d3.scaleLinear().domain(rowDomains[i]).range([y0 + panelH, y0]);
    const g = svg.append("g");
    const clipId = `clip-${i}-${c}`;
    g.append("clipPath").attr("id", clipId)
      .append("rect").attr("x", x0).attr("y", y0).attr("width", panelW).attr("height", panelH);
    const inner = g.append("g").attr("clip-path", `url(#${clipId})`);

    // envelope
    const band = c === 0 ? row.bandObs : row.bandSim;
    let bandData;
    if (typeof band[0] === "number") {
      bandData = timeDomain.map(t => ({t, hi: band[0], lo: band[1]}));
    } else {
      bandData = bandTime.map((t, k) => ({t, hi: band[0][k], lo: band[1][k]}));
    }
    inner.append("path").datum(bandData)
      .attr("fill", pink)
      .attr("d", d3.area().curve(d3.curveMonotoneX)
        .x(d => x(d.t)).y0(d => y(d.lo)).y1(d => y(d.hi)));

    // zero reference
    inner.append("line")
      .attr("x1", x0).attr("x2", x0 + panelW).attr("y1", y(0)).attr("y2", y(0))
      .attr("stroke", c === 0 ? "#333" : "#000")
      .attr("stroke-width", c === 0 ? 2.3 : 3.4)
      .attr("stroke-dasharray", c === 0 ? "14,9" : "13,7");

    // event markers
    eventTimes.forEach(t => {
      inner.append("line")
        .attr("x1", x(t)).attr("x2", x(t)).attr("y1", y0).attr("y2", y0 + panelH)
        .attr("stroke", "#000").attr("stroke-width", 3.4).attr("stroke-dasharray", "15,9");
    });

    // series: MMS3 below, MMS1 on top
    const pair = c === 0 ? row.obs : row.sim;
    [1, 0].forEach(s => {
      const vals = pair[s];
      inner.append("path")
        .datum(time.map((t, k) => ({t, v: vals[k]})).filter(d => d.v != null))
        .attr("fill", "none")
        .attr("stroke", seriesColor[s])
        .attr("stroke-width", 3.5)
        .attr("stroke-linejoin", "round")
        .attr("d", d3.line().x(d => x(d.t)).y(d => y(d.v)));
    });

    // frame
    g.append("rect").attr("x", x0).attr("y", y0).attr("width", panelW).attr("height", panelH)
      .attr("fill", "none").attr("stroke", "#707070").attr("stroke-width", 2.4);

    // inward ticks on all four sides
    const styleAxis = sel => {
      sel.select(".domain").remove();
      sel.attr("font-family", FONT).attr("font-size", 33);
      sel.selectAll("line").attr("stroke", "#555").attr("stroke-width", 2);
      sel.selectAll("text").attr("fill", "#222");
    };
    g.append("g").attr("transform", `translate(${x0},0)`)
      .call(d3.axisLeft(y).tickValues(rowTicks[i]).tickSize(-9).tickPadding(17)
        .tickFormat(c === 0 ? (d => String(d)) : () => ""))
      .call(styleAxis);
    g.append("g").attr("transform", `translate(${x0 + panelW},0)`)
      .call(d3.axisRight(y).tickValues(rowTicks[i]).tickSize(-9).tickFormat(() => ""))
      .call(styleAxis);
    g.append("g").attr("transform", `translate(0,${y0})`)
      .call(d3.axisTop(x).tickValues(timeTicks).tickSize(-9).tickFormat(() => ""))
      .call(styleAxis);
    g.append("g").attr("transform", `translate(0,${y0 + panelH})`)
      .call(d3.axisBottom(x).tickValues(timeTicks).tickSize(-9).tickFormat(() => ""))
      .call(styleAxis);

    // panel letter
    g.append("text")
      .attr("x", x0 + panelW - 28).attr("y", y0 + letterOffset[i][c]).attr("dy", "0.36em")
      .attr("text-anchor", "end").attr("font-family", FONT).attr("font-size", 41).attr("fill", "#111")
      .text(`(${rowLetters[i][c]})`);

    // time axis labels under the last row
    if (i === rows.length - 1) {
      const bottom = g.append("g").attr("transform", `translate(0,${y0 + panelH})`)
        .call(d3.axisBottom(x).tickValues(timeLabels).tickSize(0).tickPadding(24)
          .tickFormat(d => String(d)));
      bottom.select(".domain").remove();
      bottom.attr("font-family", FONT).attr("font-size", 34);
      bottom.selectAll("text").attr("fill", "#111");
      g.append("text")
        .attr("x", x(5) + 4).attr("y", 2648)
        .attr("text-anchor", "middle").attr("font-family", FONT).attr("font-size", 36).attr("fill", "#111")
        .text("t [s]");
    }
  });
});

// ---- rotated axis titles ----
const yTitles = [
  {cy: 161, parts: [["n"], ["e","sub"], [" [0.01cm"], ["-3","sup"], ["]"]]},
  {cy: 413, parts: [["T"], ["\u22A5","sub"], [" [keV]"]]},
  {cy: 627, parts: [["T"], ["||","sub"], ["/T"], ["\u22A5","sub"]]},
  {cy: 863, parts: [["B"], ["L","sub"], [" [nT]"]]},
  {cy: 1117, parts: [["B"], ["M","sub"], [" [nT]"]]},
  {cy: 1337, parts: [["B"], ["N","sub"], [" [nT]"]]},
  {cy: 1565, parts: [["E"], ["L","sub"], [" [mV/m]"]]},
  {cy: 1772, parts: [["E"], ["M","sub"], [" [mV/m]"]]},
  {cy: 2003, parts: [["E"], ["N","sub"], [" [mV/m]"]]},
  {cy: 2257, parts: [["u"], ["eL","sub"], [" [Mm/s]"]]},
  {cy: 2461, parts: [["u"], ["eM","sub"], [" [Mm/s]"]]}
];
yTitles.forEach(tt => {
  const txt = svg.append("text")
    .attr("transform", `translate(505,${tt.cy}) rotate(-90)`)
    .attr("text-anchor", "middle").attr("font-family", FONT).attr("font-size", 42).attr("fill", "#111");
  let shift = 0;
  tt.parts.forEach(([s, kind]) => {
    const target = kind === "sub" ? 10 : kind === "sup" ? -16 : 0;
    const ts = txt.append("tspan").attr("dy", target - shift).text(s);
    if (kind) ts.attr("font-size", 30);
    shift = target;
  });
});

// ---- row group captions ----
const captions = [
  {text: "Density", x: 36, y: 250, w: 284},
  {text: "Temperature", x: 27, y: 583, w: 487},
  {text: "Magnetic", x: 31, y: 1245, w: 355},
  {text: "field", x: 29, y: 1352, w: 155},
  {text: "Electric", x: 29, y: 1862, w: 282},
  {text: "field", x: 29, y: 1970, w: 155},
  {text: "Electron", x: 29, y: 2317, w: 315},
  {text: "Velocity", x: 29, y: 2424, w: 294}
];
captions.forEach(cp => {
  svg.append("text").attr("x", cp.x).attr("y", cp.y)
    .attr("font-family", "Roboto, 'Liberation Sans', Arial, sans-serif")
    .attr("font-weight", 300).attr("font-size", 94).attr("fill", "#000")
    .attr("textLength", cp.w).attr("lengthAdjust", "spacingAndGlyphs")
    .text(cp.text);
});

// ---- legend and column title ----
const legendNames = ["MMS1", "MMS3"];
const legendRows = [{ty: 45, ly: 30}, {ty: 87, ly: 72}];
legendNames.forEach((name, k) => {
  svg.append("text").attr("x", 614).attr("y", legendRows[k].ty)
    .attr("font-family", FONT).attr("font-size", 37).attr("fill", "#111")
    .attr("textLength", 114).attr("lengthAdjust", "spacingAndGlyphs")
    .text(name);
  svg.append("line").attr("x1", 751).attr("x2", 886)
    .attr("y1", legendRows[k].ly).attr("y2", legendRows[k].ly)
    .attr("stroke", seriesColor[k]).attr("stroke-width", 3);
});
svg.append("text").attr("x", 1252).attr("y", 72)
  .attr("font-family", FONT).attr("font-size", 40).attr("fill", "#111")
  .attr("textLength", 380).attr("lengthAdjust", "spacingAndGlyphs")
  .text("VPIC Reconstruction");
</script>
</body>
</html>
